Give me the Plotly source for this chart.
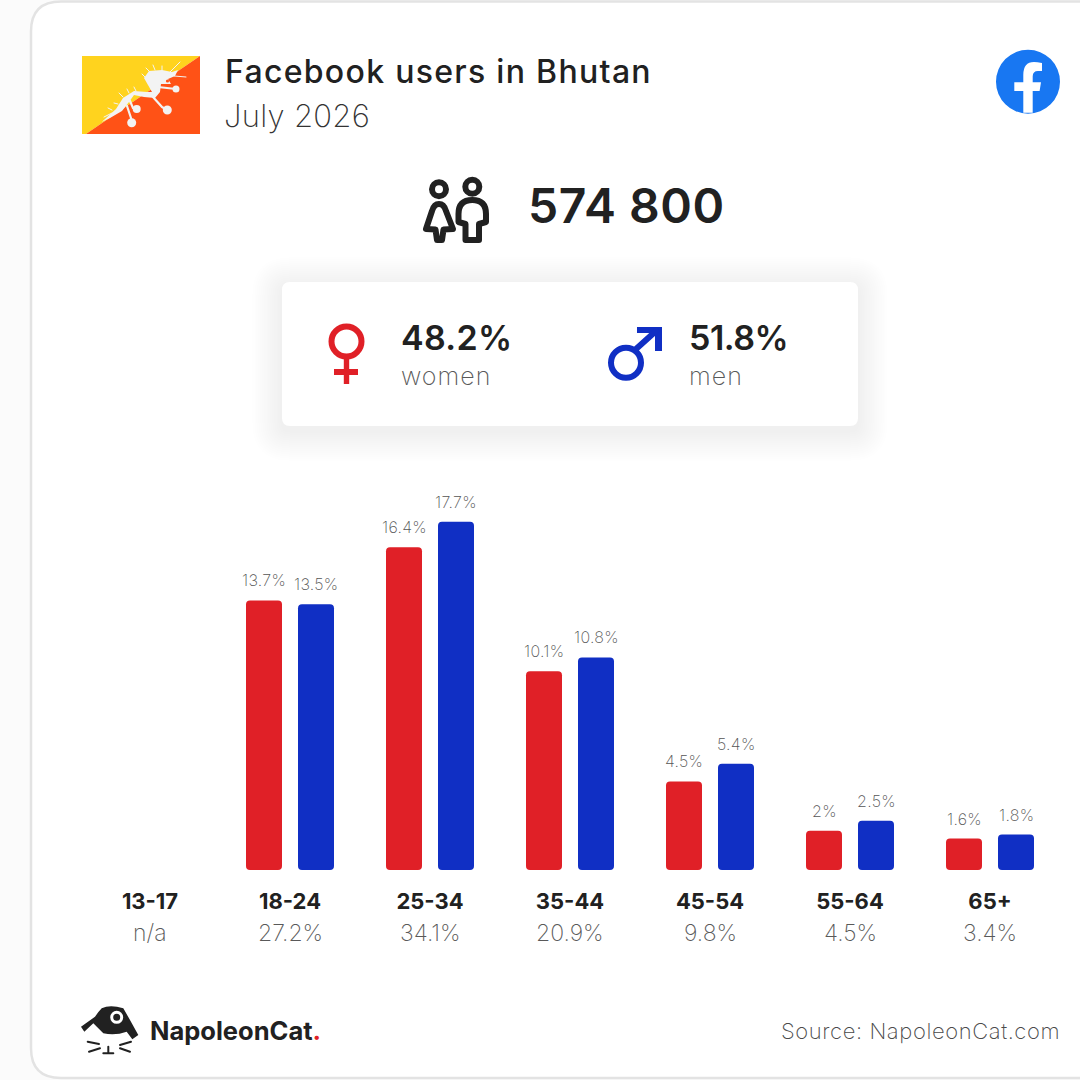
import plotly.graph_objects as go

# Data
age_groups = ["13-17", "18-24", "25-34", "35-44", "45-54", "55-64", "65+"]
women = [None, 13.7, 16.4, 10.1, 4.5, 2, 1.6]
men = [None, 13.5, 17.7, 10.8, 5.4, 2.5, 1.8]
totals = ["n/a", "27.2%", "34.1%", "20.9%", "9.8%", "4.5%", "3.4%"]

title = "Facebook users in Bhutan"
period = "July 2026"
users = "574 800"
women_share = "48.2%"
men_share = "51.8%"
source = "Source: NapoleonCat.com"

SIZE = 1080
RED = "#e02027"
BLUE = "#102fc4"
DARK = "#212121"
GREY = "#595959"
FONT = "Inter"
PX_PER_PCT = 19.68
BASE_Y = 870
DRAGON = "#f3f3f3"


def fx(x):
    return x / SIZE


def fy(y):
    return 1 - y / SIZE


def poly(points, close=True):
    d = "M" + " L".join(f"{fx(x):.5f},{fy(y):.5f}" for x, y in points)
    return d + (" Z" if close else "")


def rounded(x0, y0, x1, y1, r):
    return curve(
        f"M{x0 + r},{y0} L{x1 - r},{y0} Q{x1},{y0} {x1},{y0 + r} L{x1},{y1 - r} Q{x1},{y1} {x1 - r},{y1} "
        f"L{x0 + r},{y1} Q{x0},{y1} {x0},{y1 - r} L{x0},{y0 + r} Q{x0},{y0} {x0 + r},{y0} Z"
    )


def curve(text):
    # path string written in picture pixels, pairs converted to paper coords
    out = []
    for tok in text.split():
        if "," in tok:
            cmd = tok[0] if tok[0].isalpha() else ""
            x, y = tok.lstrip("MLQCZ").split(",")
            out.append(f"{cmd}{fx(float(x)):.5f},{fy(float(y)):.5f}")
        else:
            out.append(tok)
    return " ".join(out)


shapes = []


def add_path(path, fill=None, line=None, width=0, layer="below", opacity=1):
    shapes.append(dict(
        type="path", path=path, xref="paper", yref="paper", layer=layer, opacity=opacity,
        fillcolor=fill if fill else "rgba(0,0,0,0)",
        line=dict(color=line if line else "rgba(0,0,0,0)", width=width),
    ))


def add_circle(cx, cy, rx, ry=None, fill=None, line=None, width=0):
    ry = ry if ry else rx
    shapes.append(dict(
        type="circle", xref="paper", yref="paper", layer="below",
        x0=fx(cx - rx), x1=fx(cx + rx), y0=fy(cy + ry), y1=fy(cy - ry),
        fillcolor=fill if fill else "rgba(0,0,0,0)",
        line=dict(color=line if line else "rgba(0,0,0,0)", width=width),
    ))


# Card outline, runs off the right edge
add_path(curve("M1100,1.5 L61,1.5 Q31,1.5 31,31.5 L31,1048 Q31,1078 61,1078 L1100,1078"),
         fill="white", line="#e3e3e3", width=2.5)

# Soft shadow and panel
for grow in range(30, 0, -2):
    add_path(rounded(282 - grow, 287 - grow, 858 + grow, 431 + grow, 8 + grow), fill="black", opacity=0.0025)
add_path(rounded(282, 282, 858, 426, 8), fill="white")

# Flag
add_path(poly([(82, 56), (200, 56), (86, 134), (82, 134)]), fill="#ffd31e")
add_path(poly([(200, 56), (200, 134), (86, 134)]), fill="#ff5216")
add_path(curve("M101.7,122 L116,109 L123,98 L134,91 L147,92 L152,92 L148,85 L144,78 L149,71 L162,70 L172,72 "
               "L178,70 L175,76 L168,79 L171,84 L161,84 L160,92 L155,98 L144,97 L134,95 L129,102 L122,111 L110,118 Z"),
         fill=DRAGON)
add_path(curve("M153,97 L162,107 L167,110 M130,101 L133,108 L137,109 M127,106 L131,118 L131.7,122 M158,87 L176,89"),
         line=DRAGON, width=2.2)
# spines along the back and head
add_path(curve("M104,117 L112,113 M112,110 L108,108 M118,104 L114,103 M123,97 L119,93 M129,93 L127,89 M136,91 L134,87 "
               "M146,78 L142,74 M149,71 L146,68 M155,70 L153,65 M162,70 L162,66 M170,72 L180,62 M174,76 L186,77"),
         line=DRAGON, width=1)
for cx, cy, r in [(176, 89, 3.5), (167.3, 110, 4.5), (136.7, 109, 4), (131.7, 122.7, 4.5)]:
    add_circle(cx, cy, r, fill=DRAGON)
add_circle(167.5, 81, 1.6, fill="#ff5216")

# Facebook logo
add_circle(1028, 81.7, 32, fill="#1877f2")
add_path(curve("M1032.7,112.8 L1032.7,91 L1039.6,91 L1041,82.3 L1032.7,82.3 L1032.7,76.5 "
               "Q1032.7,71 1038,71 L1042,71 L1042,63 Q1037,62 1034,62 Q1023.3,62 1023.3,75 "
               "L1023.3,82.3 L1014.3,82.3 L1014.3,91 L1023.3,91 L1023.3,112.8 Z"), fill="white")

# People icon
add_circle(439, 189.3, 7, line=DARK, width=6)
add_circle(472.3, 186.7, 7, line=DARK, width=6)
add_path(curve("M439,204 Q434,204 432,211 L426,229 L435.5,229.5 L437,240 L442,240 L443.5,229.5 L453,229 "
               "L446,211 Q444,204 439,204 Z"), line=DARK, width=6)
add_path(curve("M458.5,222 L458.5,214 Q458.5,200 472.3,200 Q486,200 486,214 L486,222 L479,224 L479,240 "
               "L465.5,240 L465.5,224 Z"), line=DARK, width=6)

# Female symbol
add_circle(346.5, 341.5, 15, line=RED, width=6)
add_path(poly([(343.8, 358), (349.2, 358), (349.2, 384), (343.8, 384)]), fill=RED)
add_path(poly([(334, 369), (358, 369), (358, 375), (334, 375)]), fill=RED)

# Male symbol
add_circle(626, 362.7, 15, line=BLUE, width=6)
add_path(poly([(637, 327), (662, 327), (662, 351), (655, 351), (655, 333), (637, 333)]), fill=BLUE)
add_path(poly([(636, 349), (656, 331)], close=False), line=BLUE, width=6)

# NapoleonCat logo
add_path(curve("M81,1026.7 L95,1016.7 Q99,1011 101.7,1008.3 Q110,1004 123.3,1008.3 L130,1020 L138.3,1035 L132.3,1039.3 "
               "L126.7,1031.7 Q115,1036 103.3,1033.3 L93.3,1023.3 L84.3,1031.7 Z"), fill=DARK)
add_circle(116.7, 1017.3, 5, fill=DARK, line="white", width=3)
for a, b in [((87.7, 1041.7), (99, 1044)), ((89, 1051.7), (100, 1048.3)), ((120, 1045), (131, 1041.7)),
             ((120, 1048.3), (130, 1051.7)), ((108.3, 1046.7), (108.3, 1053)), ((103.3, 1053.3), (113.3, 1053.3))]:
    add_path(poly([a, b], close=False), line=DARK, width=2)


def note(text, x, y, size, color=DARK, weight=400, anchor="left", spacing=0):
    if spacing:
        text = f'<span style="letter-spacing:{spacing}px">{text}</span>'
    return dict(
        text=text, x=fx(x), y=fy(y), xref="paper", yref="paper", showarrow=False,
        xanchor=anchor, yanchor="middle", borderpad=0,
        font=dict(family=FONT, size=size, color=color, weight=weight),
    )


annotations = [
    note(title, 224, 71, 32, weight=500, spacing=1.3),
    note(period, 223, 115, 31, color="#333333", weight=200, spacing=0.3),
    note(users, 526.5, 205, 48, weight=600, spacing=0.5),
    note(women_share, 400, 337, 34, weight=600, spacing=0.3),
    note("women", 400, 376, 25, color=GREY, weight=200, spacing=1),
    note(men_share, 688, 337, 34, weight=600, spacing=-0.5),
    note("men", 688, 376, 25, color=GREY, weight=200, spacing=1),
    note(f'NapoleonCat<span style="color:{RED}">.</span>', 149, 1030, 25.5, weight=700),
    note(source, 1061, 1031, 22, color="#4a4a4a", weight=200, anchor="right", spacing=0.6),
]

# Share of each age group under its tick label
for i, total in enumerate(totals):
    annotations.append(note(total, 150 + 140 * i, 933, 23, color=GREY, weight=200, anchor="center"))

# Value labels over the bars
for series, shift in ((women, -26), (men, 26)):
    for i, value in enumerate(series):
        if value is None:
            continue
        annotations.append(dict(
            text=f'<span style="letter-spacing:0.3px">{value}%</span>', x=age_groups[i], y=value,
            xref="x", yref="y", showarrow=False,
            xshift=shift, yshift=9, xanchor="center", yanchor="bottom", borderpad=0,
            font=dict(family=FONT, size=16, color="#555555", weight=200),
        ))
        # round off the foot of the bar too, barcornerradius only does the top
        left = 150 + 140 * i + shift - 18
        for x, side in ((left, 1), (left + 36, -1)):
            add_path(curve(f"M{x},{BASE_Y} L{x + 4 * side},{BASE_Y} Q{x},{BASE_Y} {x},{BASE_Y - 4} Z"),
                     fill="white", layer="above")

fig = go.Figure()
fig.add_bar(x=age_groups, y=women, name="women", marker=dict(color=RED, line_width=0))
fig.add_bar(x=age_groups, y=men, name="men", marker=dict(color=BLUE, line_width=0))

fig.update_layout(
    width=SIZE, height=SIZE,
    margin=dict(l=0, r=0, t=0, b=0),
    paper_bgcolor="#fbfbfb", plot_bgcolor="rgba(0,0,0,0)",
    showlegend=False,
    barmode="group", bargap=1 - 104 / 140, bargroupgap=1 - 36 / 52, barcornerradius=4,
    shapes=shapes, annotations=annotations,
    xaxis=dict(
        type="category", categoryorder="array", categoryarray=age_groups,
        range=[-150 / 140, (SIZE - 150) / 140],
        showgrid=False, zeroline=False, showline=False, ticks="",
        ticklabelstandoff=16,
        tickfont=dict(family=FONT, size=22, color=DARK, weight=700),
    ),
    yaxis=dict(
        domain=[1 - BASE_Y / SIZE, 1], range=[0, BASE_Y / PX_PER_PCT],
        visible=False,
    ),
)

fig.write_html(
    "out.html", config=dict(displayModeBar=False),
    post_script="document.body.style.margin='0';"
                "document.querySelectorAll('.shapelayer path').forEach(function(p){"
                "p.style.strokeLinejoin='round';p.style.strokeLinecap='round';});",
)
